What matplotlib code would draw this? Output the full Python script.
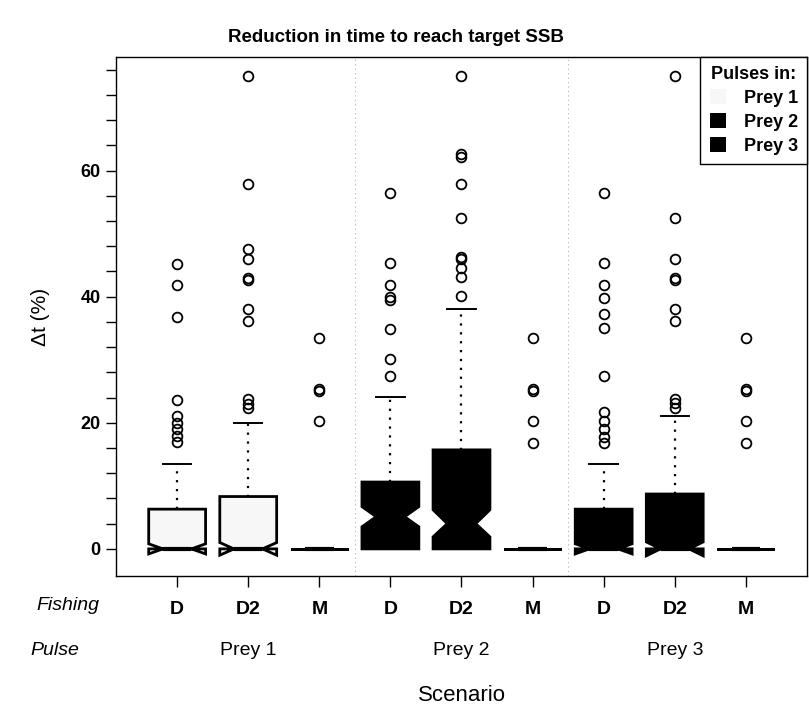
import matplotlib
matplotlib.use("Agg")
import matplotlib.pyplot as plt
from matplotlib.patches import Patch
from matplotlib.transforms import blended_transform_factory

plt.rcParams['font.family'] = ['Liberation Sans', 'DejaVu Sans']

# Scenario layout: three pulse groups x three fishing strategies
pulses = ["Prey 1", "Prey 2", "Prey 3"]
fishing = ["D", "D2", "M"]
pulse_colors = ["#f7f7f7", "#000000", "#000000"]

# Box statistics, order: Prey1 D, D2, M | Prey2 D, D2, M | Prey3 D, D2, M
q1 = [0, 0, 0, 0, 0, 0, 0, 0, 0]
medians = [0, 0, 0, 5.1, 4.0, 0, 0, 0, 0]
q3 = [6.3, 8.3, 0, 10.6, 15.7, 0, 6.3, 8.7, 0]
whisk_lo = [0, 0, 0, 0, 0, 0, 0, 0, 0]
whisk_hi = [13.5, 20.0, 0, 24.1, 38.0, 0, 13.5, 21.0, 0]
notch_lo = [-0.8, -1.0, 0, 3.5, 1.9, 0, -0.8, -1.1, 0]
notch_hi = [0.8, 1.0, 0, 6.7, 6.2, 0, 0.8, 1.1, 0]
outliers = [
    [45.2, 41.9, 36.7, 23.6, 21.1, 20.0, 19.0, 17.9, 16.9],
    [75.0, 57.9, 47.6, 45.9, 43.0, 42.6, 38.0, 36.2, 23.7, 23.0, 22.3],
    [33.4, 25.3, 25.0, 20.2],
    [56.5, 45.3, 41.9, 40.0, 39.5, 34.9, 30.1, 27.4],
    [75.0, 62.6, 62.2, 57.9, 52.4, 46.3, 45.9, 44.5, 43.1, 40.1],
    [33.4, 25.3, 25.0, 20.2, 16.8],
    [56.5, 45.3, 41.9, 39.8, 37.2, 35.0, 27.4, 21.7, 20.3, 19.0, 17.8, 16.8],
    [75.0, 52.4, 45.9, 43.0, 42.6, 38.0, 36.2, 23.8, 23.2, 22.4],
    [33.4, 25.3, 25.0, 20.2, 16.8],
]

fig = plt.figure(figsize=(8.09, 7.19), dpi=100)
ax = fig.add_axes([0.1434, 0.1989, 0.8541, 0.7218])

stats = []
for i in range(9):
    stats.append(dict(med=medians[i], q1=q1[i], q3=q3[i],
                      whislo=whisk_lo[i], whishi=whisk_hi[i],
                      cilo=notch_lo[i], cihi=notch_hi[i],
                      fliers=outliers[i]))

positions = list(range(1, 10))
bp = ax.bxp(stats, positions=positions, widths=0.8, patch_artist=True,
            shownotches=True, manage_ticks=False,
            boxprops=dict(edgecolor='black', linewidth=2.0),
            medianprops=dict(color='black', linewidth=3.0, solid_capstyle='butt'),
            whiskerprops=dict(color='black', linewidth=1.6, linestyle=(0, (1, 3))),
            capprops=dict(color='black', linewidth=1.4),
            flierprops=dict(marker='o', markerfacecolor='none', markeredgecolor='black',
                            markersize=7, markeredgewidth=1.3, linestyle='none'))

for i, box in enumerate(bp['boxes']):
    box.set_facecolor(pulse_colors[i // 3])

# faint separators between pulse groups
for xs in (3.5, 6.5):
    ax.axvline(xs, color='#b0b0b0', linewidth=0.8, linestyle=(0, (1, 3)), zorder=0)

ax.set_xlim(0.14, 9.86)
ax.set_ylim(-4.3, 78)

ax.set_yticks([0, 20, 40, 60])
ax.set_yticks(list(range(0, 77, 4)), minor=True)
ax.tick_params(axis='y', which='both', length=7, width=1.0, direction='out')
ax.tick_params(axis='y', which='major', labelsize=13, pad=4)
for lbl in ax.get_yticklabels():
    lbl.set_fontweight('bold')

ax.set_xticks(positions)
ax.set_xticklabels(fishing * 3, fontsize=14, fontweight='bold')
ax.tick_params(axis='x', length=8, width=1.0, pad=10)

for s in ax.spines.values():
    s.set_linewidth(1.0)
    s.set_color('black')

ax.set_ylabel("\u0394t (%)", fontsize=15, labelpad=22)

trans = blended_transform_factory(fig.transFigure, ax.transAxes)
ax.text(36 / 809, -0.057, "Fishing", transform=trans, fontsize=14,
        fontstyle='italic', ha='left', va='center')
ax.text(30 / 809, -0.143, "Pulse", transform=trans, fontsize=14,
        fontstyle='italic', ha='left', va='center')

trans_x = blended_transform_factory(ax.transData, ax.transAxes)
for g, name in enumerate(pulses):
    ax.text(2 + 3 * g, -0.143, name, transform=trans_x, fontsize=14,
            ha='center', va='center')

ax.text(0.5, -0.231, "Scenario", transform=ax.transAxes, fontsize=16,
        ha='center', va='center')

fig.text(396 / 809, 1 - 37 / 719, "Reduction in time to reach target SSB",
         fontsize=13.5, fontweight='bold', ha='center', va='center')

handles = [Patch(facecolor=c, edgecolor='none') for c in pulse_colors]
leg = ax.legend(handles, pulses, title="Pulses in:", loc='upper right',
                borderaxespad=0, fancybox=False, framealpha=1,
                edgecolor='black', handlelength=0.9, handleheight=0.9,
                handletextpad=1.0, borderpad=0.5, labelspacing=0.35,
                prop=dict(size=13, weight='bold'),
                title_fontproperties=dict(size=13, weight='bold'))
leg.get_frame().set_linewidth(1.0)

fig.savefig("out.png", dpi=100)
